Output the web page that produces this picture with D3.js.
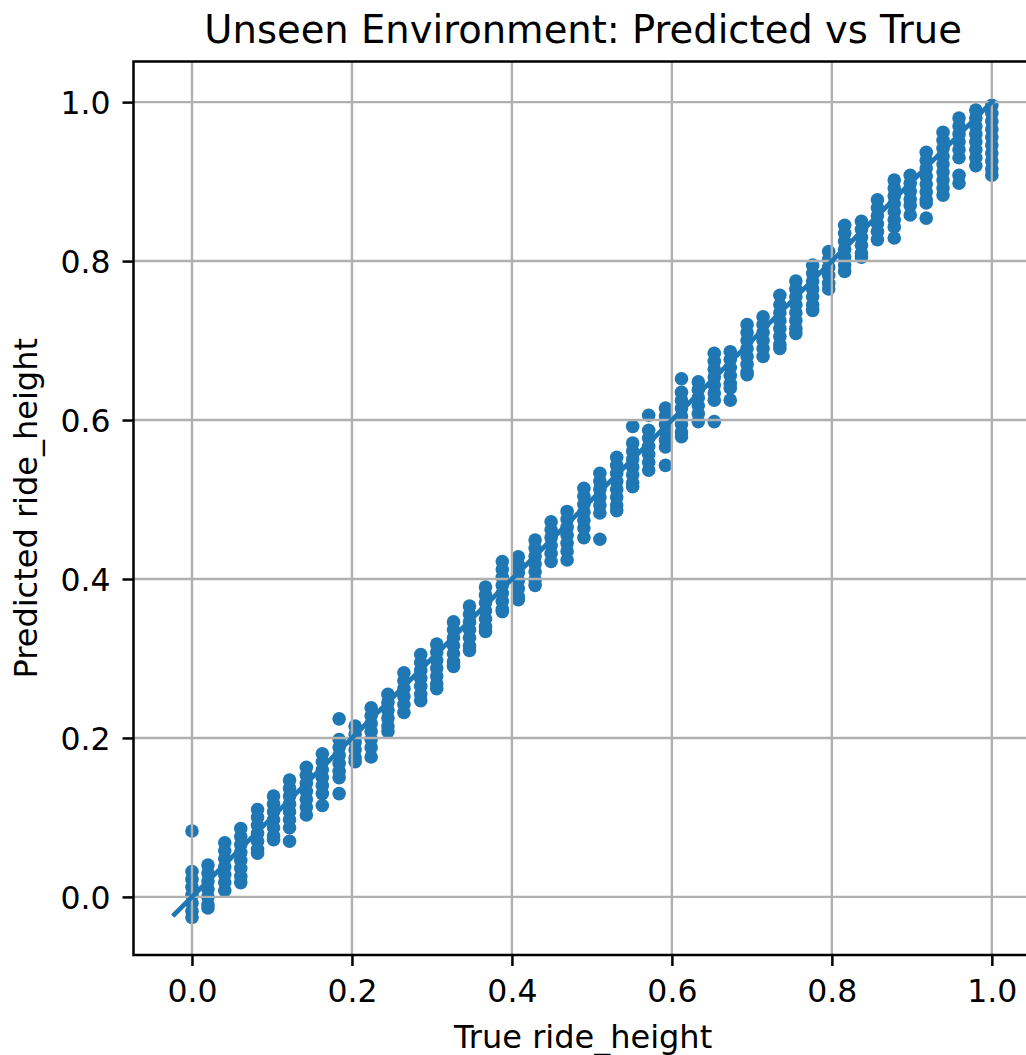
<!DOCTYPE html>
<html>
<head>
<meta charset="utf-8">
<script src="https://cdn.jsdelivr.net/npm/d3@7"></script>
<style>
  body { margin: 0; background: #fff; }
  text { font-family: "DejaVu Sans", sans-serif; fill: #000; }
</style>
</head>
<body>
<div id="graph"></div>
<script>
    var w = 1026;
    var h = 1055;
    var blue = "#1f77b4";

    // true ride_height values (one column of points per value)
    var trueVals = [0.000, 0.020, 0.041, 0.061, 0.082, 0.102, 0.122, 0.143, 0.163, 0.184,
                    0.204, 0.224, 0.245, 0.265, 0.286, 0.306, 0.327, 0.347, 0.367, 0.388,
                    0.408, 0.429, 0.449, 0.469, 0.490, 0.510, 0.531, 0.551, 0.571, 0.592,
                    0.612, 0.633, 0.653, 0.673, 0.694, 0.714, 0.735, 0.755, 0.776, 0.796,
                    0.816, 0.837, 0.857, 0.878, 0.898, 0.918, 0.939, 0.959, 0.980, 1.000];

    // predicted values, one list per column
    var predVals = [
        [0.083, 0.032, 0.022, 0.012, 0.002, -0.008, -0.018, -0.026],
        [0.040, 0.030, 0.020, 0.010, 0.000, -0.010, -0.014],
        [0.068, 0.058, 0.048, 0.038, 0.028, 0.018, 0.008],
        [0.086, 0.076, 0.066, 0.056, 0.046, 0.036, 0.026, 0.018],
        [0.110, 0.100, 0.090, 0.080, 0.070, 0.060, 0.055],
        [0.127, 0.117, 0.107, 0.097, 0.087, 0.077, 0.072],
        [0.147, 0.137, 0.127, 0.117, 0.107, 0.097, 0.087, 0.070],
        [0.163, 0.153, 0.143, 0.133, 0.123, 0.113, 0.103],
        [0.180, 0.170, 0.160, 0.150, 0.140, 0.130, 0.115],
        [0.224, 0.198, 0.188, 0.178, 0.168, 0.158, 0.150, 0.130],
        [0.215, 0.205, 0.195, 0.185, 0.175, 0.170],
        [0.238, 0.228, 0.218, 0.208, 0.198, 0.188, 0.176],
        [0.255, 0.245, 0.235, 0.225, 0.215, 0.208],
        [0.282, 0.272, 0.262, 0.252, 0.242, 0.232],
        [0.305, 0.295, 0.285, 0.275, 0.265, 0.255, 0.247],
        [0.318, 0.308, 0.298, 0.288, 0.278, 0.268, 0.262],
        [0.346, 0.336, 0.326, 0.316, 0.306, 0.296, 0.290],
        [0.366, 0.356, 0.346, 0.336, 0.326, 0.316, 0.310],
        [0.390, 0.380, 0.370, 0.360, 0.350, 0.340, 0.334],
        [0.422, 0.412, 0.402, 0.392, 0.382, 0.372, 0.362, 0.359],
        [0.428, 0.418, 0.408, 0.398, 0.388, 0.378, 0.374],
        [0.449, 0.439, 0.429, 0.419, 0.409, 0.399, 0.392],
        [0.472, 0.462, 0.452, 0.442, 0.432, 0.422],
        [0.485, 0.475, 0.465, 0.455, 0.445, 0.435, 0.424],
        [0.514, 0.504, 0.494, 0.484, 0.474, 0.464, 0.452],
        [0.533, 0.523, 0.513, 0.503, 0.493, 0.483, 0.450],
        [0.553, 0.543, 0.533, 0.523, 0.513, 0.503, 0.493, 0.486],
        [0.592, 0.571, 0.561, 0.551, 0.541, 0.531, 0.521, 0.516],
        [0.606, 0.587, 0.577, 0.567, 0.557, 0.547, 0.537],
        [0.615, 0.605, 0.595, 0.585, 0.575, 0.566, 0.543],
        [0.652, 0.635, 0.625, 0.615, 0.605, 0.595, 0.585, 0.579],
        [0.648, 0.638, 0.628, 0.618, 0.608, 0.598],
        [0.684, 0.674, 0.664, 0.654, 0.644, 0.634, 0.625, 0.598],
        [0.686, 0.676, 0.666, 0.656, 0.646, 0.640, 0.625],
        [0.720, 0.710, 0.700, 0.690, 0.680, 0.670, 0.660, 0.657],
        [0.730, 0.720, 0.710, 0.700, 0.690, 0.680],
        [0.757, 0.745, 0.735, 0.725, 0.715, 0.705, 0.695, 0.690],
        [0.775, 0.765, 0.755, 0.745, 0.735, 0.725, 0.715, 0.709],
        [0.795, 0.785, 0.775, 0.765, 0.755, 0.745, 0.738],
        [0.812, 0.802, 0.792, 0.782, 0.772, 0.765],
        [0.845, 0.835, 0.825, 0.815, 0.805, 0.795, 0.787],
        [0.850, 0.840, 0.830, 0.820, 0.810, 0.805],
        [0.877, 0.867, 0.857, 0.847, 0.837, 0.827],
        [0.902, 0.892, 0.882, 0.872, 0.862, 0.852, 0.843, 0.829],
        [0.908, 0.898, 0.888, 0.878, 0.870, 0.858],
        [0.937, 0.927, 0.917, 0.907, 0.897, 0.887, 0.877, 0.873, 0.854],
        [0.962, 0.952, 0.942, 0.932, 0.922, 0.912, 0.902, 0.892, 0.883],
        [0.980, 0.970, 0.960, 0.950, 0.940, 0.930, 0.908, 0.898],
        [0.990, 0.980, 0.970, 0.960, 0.950, 0.940, 0.930, 0.920],
        [0.996, 0.986, 0.976, 0.966, 0.956, 0.946, 0.936, 0.926, 0.916, 0.908]
    ];

    // ends of the y = x reference line
    var lineEnds = [-0.022, 1.0];
    var tickVals = [0.0, 0.2, 0.4, 0.6, 0.8, 1.0];

    var title = "Unseen Environment: Predicted vs True";
    var xLabel = "True ride_height";
    var yLabel = "Predicted ride_height";

    // plot area (right spine falls just outside the picture)
    var padL = 133.5, padR = 1032.7, padT = 61.5, padB = 955;
    var tickLen = 11;

    var x = d3.scaleLinear().domain([-0.0731, 1.0511]).range([padL, padR]);
    var y = d3.scaleLinear().domain([-0.0731, 1.0511]).range([padB, padT]);

    var points = [];
    trueVals.forEach(function(t, i){
        predVals[i].forEach(function(p){
            points.push({t: t, p: p});
        });
    });

    var svg = d3.select("#graph").append("svg")
        .attr("width", w)
        .attr("height", h)
        .style("display", "block");

    svg.append("rect").attr("width", w).attr("height", h).attr("fill", "#fff");

    // scatter (matplotlib draws the grid above collections)
    svg.append("g").selectAll("circle")
        .data(points)
        .enter()
        .append("circle")
        .attr("cx", function(d){ return x(d.t); })
        .attr("cy", function(d){ return y(d.p); })
        .attr("r", 6.8)
        .style("fill", blue);

    // grid
    var grid = svg.append("g")
        .attr("stroke", "#b0b0b0")
        .attr("stroke-width", 2.4);
    grid.selectAll(".vgrid")
        .data(tickVals)
        .enter()
        .append("line")
        .attr("class", "vgrid")
        .attr("x1", function(d){ return x(d); })
        .attr("x2", function(d){ return x(d); })
        .attr("y1", padT)
        .attr("y2", padB);
    grid.selectAll(".hgrid")
        .data(tickVals)
        .enter()
        .append("line")
        .attr("class", "hgrid")
        .attr("y1", function(d){ return y(d); })
        .attr("y2", function(d){ return y(d); })
        .attr("x1", padL)
        .attr("x2", padR);

    // y = x line
    svg.append("path")
        .datum(lineEnds)
        .attr("d", d3.line()
            .x(function(d){ return x(d); })
            .y(function(d){ return y(d); }))
        .attr("fill", "none")
        .attr("stroke", blue)
        .attr("stroke-width", 4.7)
        .attr("stroke-linecap", "square");

    // axes
    var xAxis = d3.axisBottom(x)
        .tickValues(tickVals)
        .tickFormat(d3.format(".1f"))
        .tickSizeOuter(0)
        .tickSize(tickLen)
        .tickPadding(11);
    var yAxis = d3.axisLeft(y)
        .tickValues(tickVals)
        .tickFormat(d3.format(".1f"))
        .tickSizeOuter(0)
        .tickSize(tickLen)
        .tickPadding(11);

    var gx = svg.append("g")
        .attr("transform", "translate(0," + padB + ")")
        .call(xAxis);
    var gy = svg.append("g")
        .attr("transform", "translate(" + padL + ",0)")
        .call(yAxis);

    [gx, gy].forEach(function(g){
        g.select(".domain").remove();
        g.selectAll(".tick line").attr("stroke", "#000").attr("stroke-width", 2.5);
        g.selectAll(".tick text")
            .attr("fill", "#000")
            .style("font-family", "'DejaVu Sans', sans-serif")
            .style("font-size", "31.5px");
    });
    gx.selectAll(".tick text").attr("y", 47).attr("dy", null);
    gy.selectAll(".tick text").attr("x", -23).attr("dy", "0.36em");

    // spines
    svg.append("rect")
        .attr("x", padL)
        .attr("y", padT)
        .attr("width", padR - padL)
        .attr("height", padB - padT)
        .attr("fill", "none")
        .attr("stroke", "#000")
        .attr("stroke-width", 2.5);

    // labels
    svg.append("text")
        .attr("x", (padL + padR) / 2)
        .attr("y", 43)
        .attr("text-anchor", "middle")
        .style("font-size", "38.5px")
        .text(title);

    svg.append("text")
        .attr("x", (padL + padR) / 2)
        .attr("y", 1048)
        .attr("text-anchor", "middle")
        .style("font-size", "32px")
        .text(xLabel);

    svg.append("text")
        .attr("transform", "translate(37," + ((padT + padB) / 2) + ") rotate(-90)")
        .attr("text-anchor", "middle")
        .style("font-size", "32px")
        .text(yLabel);
</script>
</body>
</html>
